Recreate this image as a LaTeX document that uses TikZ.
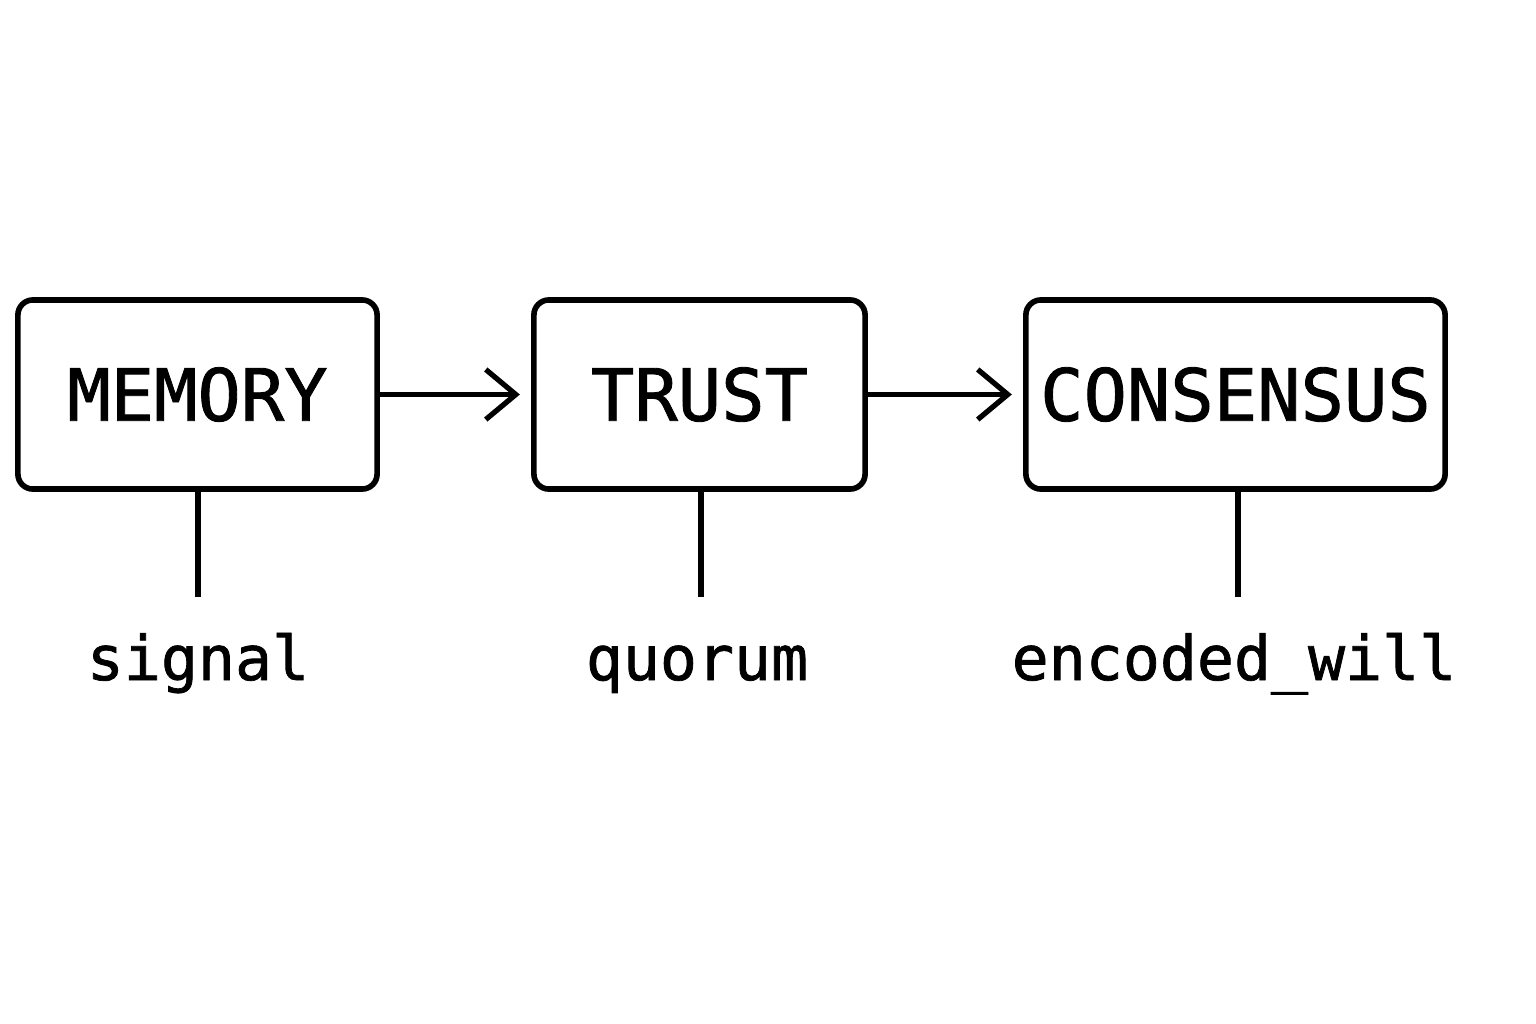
\documentclass[tikz,border=0pt]{standalone}
\usepackage{fontspec}
\setmonofont{DejaVu Sans Mono}[BoldFont={DejaVu Sans Mono},BoldFeatures={FakeBold=1.2}]
\usetikzlibrary{arrows.meta}
\begin{document}
\begin{tikzpicture}[x=0.01cm,y=-0.01cm]
	\tikzset{stage/.style={draw,line width=1.6pt,rounded corners=0.15cm,minimum height=1.89cm,inner sep=0pt,outer sep=0pt,font=\fontsize{20.5}{24}\selectfont\ttfamily\bfseries}}
	\tikzset{term/.style={anchor=base,font=\fontsize{17.5}{21}\selectfont\ttfamily\bfseries}}
	\tikzset{flow/.style={line width=1.5pt,-{Straight Barb[length=0.3cm,width=0.5cm,line width=1.5pt]},shorten >=0.14cm}}
	\tikzset{stem/.style={line width=1.5pt}}
	\useasboundingbox[fill=white] (0,0) rectangle (1536,1024);
	\node[stage,minimum width=3.59cm] (memory) at (197.5,394.5) {MEMORY};
	\node[stage,minimum width=3.31cm] (trust) at (699.5,394.5) {TRUST};
	\node[stage,minimum width=4.19cm] (consensus) at (1235.5,394.5) {CONSENSUS};
	\draw[flow] (memory) -- (trust);
	\draw[flow] (trust) -- (consensus);
	\coordinate (m1) at (198,597);
	\coordinate (t1) at (701,597);
	\coordinate (c1) at (1238,597);
	\draw[stem] (memory.south -| m1) -- (m1);
	\draw[stem] (trust.south -| t1) -- (t1);
	\draw[stem] (consensus.south -| c1) -- (c1);
	\node[term] (signal) at (198,680) {signal};
	\node[term] (quorum) at (697,680) {quorum};
	\node[term] (will) at (1234,680) {encoded\_will};
\end{tikzpicture}
\end{document}
